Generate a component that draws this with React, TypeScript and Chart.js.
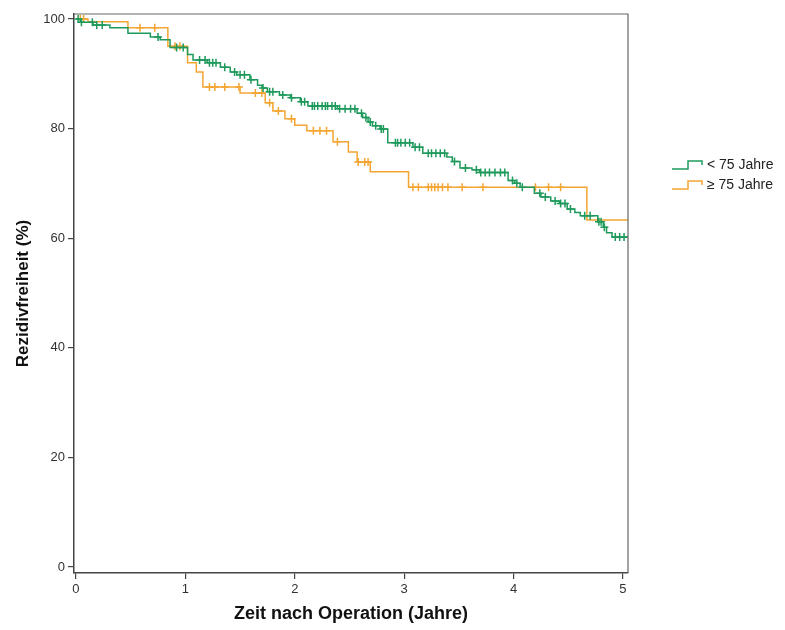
import React, { useEffect, useRef } from "react";
import { Chart, registerables } from "chart.js";

Chart.register(...registerables);

const xTicks = [0, 1, 2, 3, 4, 5];
const yTicks = [0, 20, 40, 60, 80, 100];
const groupLabels = ["< 75 Jahre", "≥ 75 Jahre"];

// Group < 75 Jahre: step times (years) and survival (%)
const youngTimes = [0, 0.04, 0.155, 0.31, 0.475, 0.68, 0.77, 0.86, 1.02, 1.07, 1.2, 1.32, 1.41, 1.47, 1.59, 1.66, 1.7, 1.75, 1.86, 1.96, 2.05, 2.12, 2.39, 2.57, 2.62, 2.67, 2.71, 2.78, 2.85, 3.08, 3.17, 3.39, 3.44, 3.51, 3.62, 3.69, 3.95, 4.01, 4.06, 4.19, 4.25, 4.34, 4.42, 4.49, 4.56, 4.61, 4.77, 4.82, 4.85, 4.9, 5.046];
const youngSurv = [100, 99.4, 98.9, 98.4, 97.4, 96.7, 96.2, 94.8, 93.5, 92.5, 92.0, 91.2, 90.3, 89.8, 88.9, 87.9, 87.4, 86.7, 86.1, 85.6, 84.9, 84.1, 83.6, 82.8, 82.0, 81.2, 80.5, 79.9, 77.4, 76.6, 75.5, 74.8, 74.0, 72.8, 72.5, 72.0, 70.5, 70.0, 69.3, 68.2, 67.5, 66.8, 66.3, 65.3, 64.7, 64.1, 63.0, 62.0, 61.0, 60.2, 60.2];
const youngCensored = [0.02, 0.05, 0.15, 0.19, 0.24, 0.75, 0.92, 0.98, 1.13, 1.18, 1.22, 1.25, 1.28, 1.36, 1.45, 1.5, 1.54, 1.6, 1.71, 1.77, 1.8, 1.89, 1.97, 2.06, 2.09, 2.16, 2.18, 2.21, 2.25, 2.28, 2.3, 2.34, 2.37, 2.41, 2.46, 2.51, 2.55, 2.61, 2.65, 2.69, 2.74, 2.79, 2.81, 2.92, 2.94, 2.97, 3.01, 3.05, 3.1, 3.14, 3.22, 3.25, 3.29, 3.33, 3.37, 3.46, 3.56, 3.66, 3.7, 3.74, 3.78, 3.83, 3.88, 3.92, 3.99, 4.03, 4.08, 4.24, 4.29, 4.38, 4.43, 4.47, 4.52, 4.65, 4.7, 4.78, 4.8, 4.83, 4.93, 4.97, 5.01];

// Group >= 75 Jahre
const oldTimes = [0, 0.11, 0.475, 0.84, 1.02, 1.1, 1.16, 1.5, 1.73, 1.8, 1.91, 2.0, 2.11, 2.35, 2.49, 2.57, 2.69, 3.04, 4.67, 5.046];
const oldSurv = [100, 99.5, 98.4, 95.0, 92.0, 90.3, 87.6, 86.5, 84.7, 83.2, 81.8, 80.6, 79.6, 77.6, 75.7, 73.9, 72.1, 69.3, 63.3, 63.3];
const oldCensored = [0.04, 0.07, 0.585, 0.72, 0.905, 0.95, 1.22, 1.27, 1.36, 1.49, 1.64, 1.7, 1.77, 1.85, 1.97, 2.17, 2.23, 2.29, 2.39, 2.58, 2.64, 2.67, 3.08, 3.13, 3.22, 3.25, 3.28, 3.31, 3.35, 3.4, 3.53, 3.72, 4.2, 4.32, 4.43];

const greenColor = "#1f9a5c";
const orangeColor = "#f4a532";
const font = '"Liberation Sans", Arial, Helvetica, sans-serif';

function stepPoints(times: number[], surv: number[]) {
  return times.map((t, i) => ({ x: t, y: surv[i] }));
}

function censorPoints(censored: number[], times: number[], surv: number[]) {
  return censored.map((t) => {
    let v = surv[0];
    for (let i = 0; i < times.length; i++) {
      if (times[i] <= t) v = surv[i];
    }
    return { x: t, y: v };
  });
}

const frameAndLegend = {
  id: "frameAndLegend",
  afterDraw(chart: any) {
    const { ctx, chartArea } = chart;
    ctx.save();
    ctx.strokeStyle = "#666";
    ctx.lineWidth = 1.2;
    ctx.beginPath();
    ctx.moveTo(chartArea.left, chartArea.top);
    ctx.lineTo(chartArea.right, chartArea.top);
    ctx.lineTo(chartArea.right, chartArea.bottom);
    ctx.stroke();

    const items = [
      { label: groupLabels[0], color: greenColor, y: 165 },
      { label: groupLabels[1], color: orangeColor, y: 185 },
    ];
    items.forEach((it) => {
      ctx.strokeStyle = it.color;
      ctx.lineWidth = 1.5;
      ctx.beginPath();
      ctx.moveTo(672, it.y + 4);
      ctx.lineTo(688, it.y + 4);
      ctx.lineTo(688, it.y - 4);
      ctx.lineTo(702, it.y - 4);
      ctx.lineTo(702, it.y);
      ctx.stroke();
      ctx.fillStyle = "#222";
      ctx.font = `14px ${font}`;
      ctx.textBaseline = "middle";
      ctx.textAlign = "left";
      ctx.fillText(it.label, 707, it.y);
    });
    ctx.restore();
  },
};

export default function App() {
  const canvasRef = useRef<HTMLCanvasElement | null>(null);

  useEffect(() => {
    if (!canvasRef.current) return;
    const chart = new Chart(canvasRef.current, {
      type: "line",
      data: {
        datasets: [
          {
            label: groupLabels[0],
            data: censorPoints(youngCensored, youngTimes, youngSurv),
            showLine: false,
            pointStyle: "cross",
            pointRadius: 4,
            pointBorderWidth: 1.5,
            borderColor: greenColor,
            backgroundColor: greenColor,
          },
          {
            label: groupLabels[0],
            data: stepPoints(youngTimes, youngSurv),
            stepped: true,
            borderColor: greenColor,
            borderWidth: 1.5,
            pointRadius: 0,
            fill: false,
          },
          {
            label: groupLabels[1],
            data: censorPoints(oldCensored, oldTimes, oldSurv),
            showLine: false,
            pointStyle: "cross",
            pointRadius: 4,
            pointBorderWidth: 1.5,
            borderColor: orangeColor,
            backgroundColor: orangeColor,
          },
          {
            label: groupLabels[1],
            data: stepPoints(oldTimes, oldSurv),
            stepped: true,
            borderColor: orangeColor,
            borderWidth: 1.5,
            pointRadius: 0,
            fill: false,
          },
        ],
      },
      options: {
        animation: false,
        responsive: false,
        events: [],
        layout: { padding: { top: 14, right: 157, left: 0, bottom: 0 } },
        plugins: {
          legend: { display: false },
          tooltip: { enabled: false },
        },
        scales: {
          x: {
            type: "linear",
            min: -0.018,
            max: 5.046,
            afterBuildTicks: (s: any) => {
              s.ticks = xTicks.map((v) => ({ value: v }));
            },
            afterFit: (s: any) => {
              s.height = 57;
            },
            ticks: {
              font: { size: 13, family: font },
              color: "#333",
              padding: 3,
              maxRotation: 0,
              autoSkip: false,
            },
            grid: {
              display: true,
              drawOnChartArea: false,
              drawTicks: true,
              tickLength: 6,
              color: "#444",
              lineWidth: 1.2,
            },
            border: { display: true, color: "#444", width: 1.5 },
            title: {
              display: true,
              text: "Zeit nach Operation (Jahre)",
              font: { size: 18, weight: "bold", family: font },
              color: "#111",
              padding: { top: 0, bottom: 5 },
            },
          },
          y: {
            type: "linear",
            min: -1.1,
            max: 100.9,
            afterBuildTicks: (s: any) => {
              s.ticks = yTicks.map((v) => ({ value: v }));
            },
            afterFit: (s: any) => {
              s.width = 74;
            },
            ticks: {
              font: { size: 13, family: font },
              color: "#333",
              padding: 3,
              autoSkip: false,
            },
            grid: {
              display: true,
              drawOnChartArea: false,
              drawTicks: true,
              tickLength: 6,
              color: "#444",
              lineWidth: 1.2,
            },
            border: { display: true, color: "#444", width: 1.5 },
            title: {
              display: true,
              text: "Rezidivfreiheit (%)",
              font: { size: 17, weight: "bold", family: font },
              color: "#111",
              padding: { top: 13, bottom: 0 },
            },
          },
        },
      },
      plugins: [frameAndLegend],
    });
    return () => chart.destroy();
  }, []);

  return (
    <div style={{ position: "fixed", left: 0, top: 0, width: 785, height: 630, background: "#fff" }}>
      <canvas ref={canvasRef} width={785} height={630} />
    </div>
  );
}
